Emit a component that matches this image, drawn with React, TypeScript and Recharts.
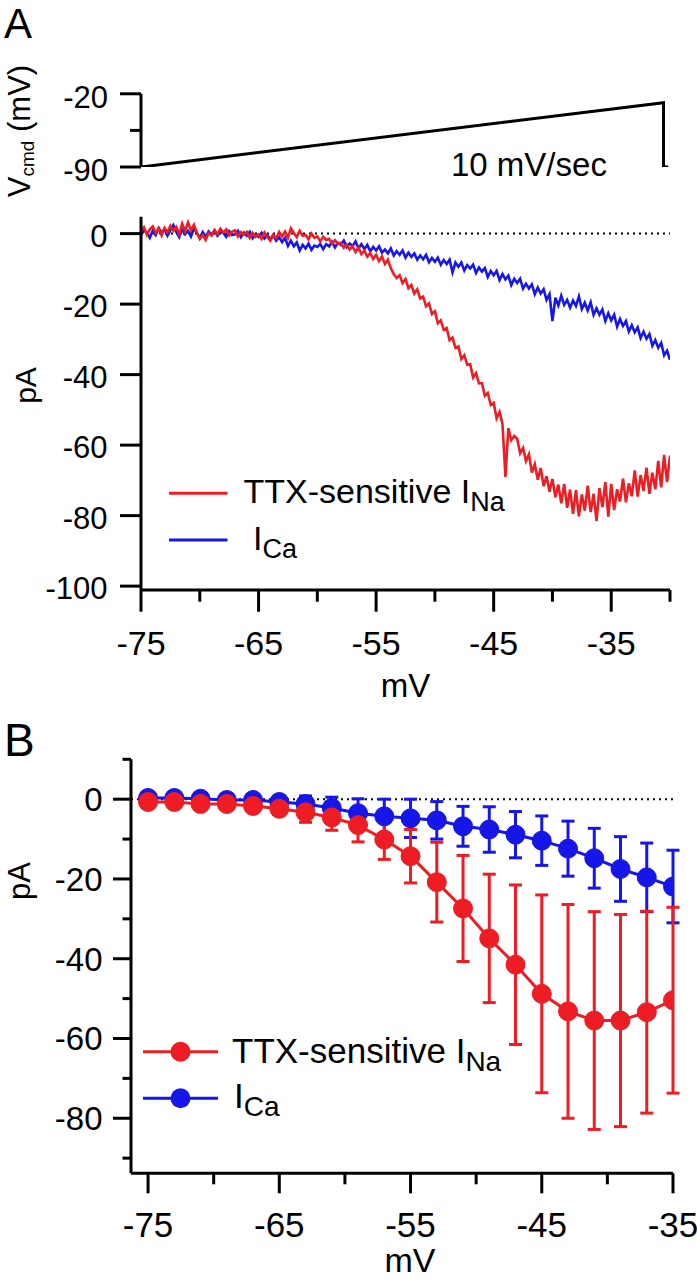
import { ErrorBar, Line, LineChart, ReferenceLine, XAxis, YAxis } from 'recharts';

const RED = '#ee1d23';
const BLUE = '#1616e8';
const FONT = '"Liberation Sans", Arial, Helvetica, sans-serif';

// command ramp shown above panel A
const rampMv = [-75, -30.55, -30.55, -30.15];
const rampCmd = [-90, -28.5, -90, -90];
const cmdTicks = [-90, -55, -20];
const cmdLabels = [-90, -20];

// panel A traces, one sample every 0.25 mV from -75 to -30
const traceStart = -75;
const traceStep = 0.25;
const naTrace = [
  0.5, 1.8, -0.3, 1.2, 2.0, 0.2, 1.5, -0.5, 1.6, 0.4, 2.2, 0.8,
  1.9, -0.2, 2.8, 0.6, 3.2, 1.0, 2.5, 0.3, -1.5, -0.4, -1.8, 0.2,
  -0.6, 1.0, -0.2, 1.4, 0.3, 1.2, -0.5, 0.6, 0.9, -0.8, 0.4, -0.3,
  0.5, -1.2, 0.2, -0.9, -0.2, -1.5, 0.3, -1.0, -2.0, -0.4, -1.3, 0.5,
  -0.8, 0.6, -1.2, 1.5, 0.2, -1.0, 0.8, -0.6, -0.4, -1.6, 0.0, -1.2,
  -0.8, -2.2, -0.9, -1.8, -1.5, -2.8, -1.9, -3.0, -2.6, -4.0, -3.1, -4.5,
  -3.6, -5.2, -4.0, -5.8, -4.8, -6.5, -5.5, -7.2, -6.0, -7.8, -6.5, -8.6,
  -7.4, -9.8, -11.5, -12.6, -11.8, -14.0, -12.9, -15.5, -14.6, -17.0, -15.8, -18.4,
  -17.9, -20.6, -19.8, -22.8, -22.0, -25.4, -24.6, -27.3, -26.8, -30.2, -29.5, -32.4,
  -32.0, -35.6, -34.5, -37.2, -37.0, -40.8, -39.6, -42.5, -42.4, -46.0, -45.2, -48.6,
  -48.0, -52.4, -50.6, -54.0, -69.0, -55.2, -58.6, -57.4, -58.2, -62.3, -60.8, -64.5,
  -62.6, -67.8, -65.4, -69.8, -66.5, -71.6, -68.8, -73.2, -69.6, -74.8, -71.2, -76.5,
  -71.0, -77.8, -72.6, -79.5, -72.8, -80.2, -74.0, -78.6, -71.5, -79.0, -73.8, -81.5,
  -72.2, -77.6, -70.5, -80.3, -71.0, -78.4, -72.5, -76.0, -69.5, -76.2, -70.8, -74.5,
  -67.2, -74.6, -68.5, -73.0, -66.4, -73.8, -67.8, -72.5, -64.5, -72.0, -62.8, -70.5,
  -63.0,
];
const caTrace = [
  -0.5, 1.0, 0.2, -1.2, 0.8, -0.4, 1.6, 0.3, 1.2, -0.6, 0.9, 2.4,
  0.5, -1.0, 1.3, -0.2, 0.8, -0.8, 1.5, 0.2, -1.2, 0.4, -0.9, 0.6,
  -0.3, 0.9, -0.6, 0.5, 0.2, -0.9, 0.7, -0.4, -0.2, 0.8, -1.0, 0.3,
  -0.6, 0.5, -1.3, -0.2, -0.9, 0.2, -1.4, -0.5, -1.6, -0.4, -2.0, -1.0,
  -2.4, -1.2, -3.5, -2.0, -3.6, -2.5, -4.8, -3.2, -4.2, -2.8, -4.6, -3.4,
  -3.8, -2.9, -4.4, -3.0, -3.6, -2.4, -3.9, -2.6, -3.2, -2.0, -3.8, -2.8,
  -3.5, -2.2, -4.2, -3.0, -4.4, -3.2, -5.0, -3.8, -4.8, -3.6, -5.4, -4.5,
  -5.6, -4.2, -6.2, -5.0, -6.0, -4.8, -6.8, -5.4, -6.6, -5.6, -7.4, -6.2,
  -7.3, -6.0, -8.1, -6.9, -8.0, -6.8, -8.8, -7.5, -8.6, -7.4, -11.0, -8.2,
  -9.4, -8.2, -10.5, -8.9, -9.9, -8.8, -11.2, -9.6, -10.8, -9.8, -12.3, -10.6,
  -11.8, -10.6, -13.2, -11.5, -13.0, -11.9, -14.6, -12.8, -14.0, -12.8, -15.6, -14.2,
  -15.6, -14.4, -17.2, -15.3, -17.0, -15.8, -18.8, -17.2, -24.8, -18.2, -20.4, -17.6,
  -20.2, -18.8, -21.0, -19.0, -20.5, -17.8, -21.4, -19.6, -21.8, -19.5, -23.0, -21.2,
  -23.0, -21.5, -24.8, -22.6, -24.6, -23.0, -26.4, -24.2, -26.2, -24.8, -27.8, -26.0,
  -28.0, -26.6, -29.6, -27.8, -29.8, -28.5, -31.8, -30.2, -32.4, -31.0, -34.5, -33.2,
  -35.8,
];
const aXTicks = [-75, -70, -65, -60, -55, -50, -45, -40, -35, -30];
const aXLabels = [-75, -65, -55, -45, -35];
const aYTicks = [0, -20, -40, -60, -80, -100];

// panel B, mean +/- error
const bMv = [-75, -73, -71, -69, -67, -65, -63, -61, -59, -57, -55, -53, -51, -49, -47, -45, -43, -41, -39, -37, -35];
const naMean = [-0.7, -0.7, -1.2, -1.2, -1.7, -2.4, -3.3, -4.6, -6.5, -10.1, -14.3, -20.8, -27.4, -34.9, -41.5, -48.8, -53.2, -55.5, -55.5, -53.4, -50.4];
const naErr = [0.5, 0.5, 0.6, 0.8, 1.0, 1.5, 2.5, 3.2, 4.2, 5.0, 6.7, 10.0, 13.3, 16.1, 20.0, 24.8, 26.8, 27.3, 26.6, 25.3, 23.3];
const caMean = [0.3, 0.3, 0.1, -0.2, -0.2, -0.7, -1.2, -2.2, -3.5, -4.3, -4.8, -5.3, -6.8, -7.6, -8.9, -10.4, -12.4, -14.8, -17.5, -19.6, -21.9];
const caErr = [0.4, 0.4, 0.5, 0.6, 0.8, 1.2, 2.0, 2.7, 3.6, 4.3, 4.8, 4.7, 5.0, 5.7, 5.8, 6.2, 6.9, 7.5, 8.1, 8.6, 9.1];
const bXTicks = [-75, -70, -65, -60, -55, -50, -45, -40, -35];
const bXLabels = [-75, -65, -55, -45, -35];
const bYTicks = [10, 0, -10, -20, -30, -40, -50, -60, -70, -80, -90];
const bYLabels = [0, -20, -40, -60, -80];

const rampRows = rampMv.map((mv, i) => ({ mv, cmd: rampCmd[i] }));
const traceRows = naTrace.map((na, i) => ({ mv: traceStart + i * traceStep, na, ca: caTrace[i] }));
const bRows = bMv.map((mv, i) => ({ mv, na: naMean[i], naErr: naErr[i], ca: caMean[i], caErr: caErr[i] }));

const axisLine = { stroke: '#000', strokeWidth: 3 };

function yTick(labels: number[], major: number, minor: number, gap: number, size: number, dy: string) {
  return (props: any) => {
    const { x, y, payload } = props;
    const labeled = labels.includes(payload.value);
    return (
      <g>
        <line x1={x - (labeled ? major : minor)} x2={x} y1={y} y2={y} stroke="#000" strokeWidth={3} />
        {labeled && (
          <text x={x - gap} y={y} dy={dy} textAnchor="end" fontSize={size} fontFamily={FONT} fill="#000">
            {payload.value}
          </text>
        )}
      </g>
    );
  };
}

function xTick(labels: number[], major: number, minor: number, drop: number, size: number) {
  return (props: any) => {
    const { x, y, payload } = props;
    const labeled = labels.includes(payload.value);
    return (
      <g>
        <line x1={x} x2={x} y1={y} y2={y + (labeled ? major : minor)} stroke="#000" strokeWidth={3} />
        {labeled && (
          <text x={x} y={y + drop} textAnchor="middle" fontSize={size} fontFamily={FONT} fill="#000">
            {payload.value}
          </text>
        )}
      </g>
    );
  };
}

export default function App() {
  return (
    <div style={{ position: 'absolute', left: 0, top: 0, width: 697, height: 1280, background: '#fff', fontFamily: FONT }}>
      <div style={{ position: 'absolute', left: 0, top: 0 }}>
        <LineChart width={697} height={200} data={rampRows} margin={{ top: 93.8, right: 27, bottom: 33, left: 0 }}>
          <XAxis type="number" dataKey="mv" domain={[-75, -30]} allowDataOverflow hide />
          <YAxis
            type="number"
            domain={[-90, -20]}
            allowDataOverflow
            ticks={cmdTicks}
            interval={0}
            width={141}
            tickSize={0}
            tickMargin={0}
            tickLine={false}
            axisLine={axisLine}
            tick={yTick(cmdLabels, 21, 11, 33, 31, '0.45em')}
          />
          <Line type="linear" dataKey="cmd" stroke="#000" strokeWidth={3} dot={false} isAnimationActive={false} />
        </LineChart>
      </div>

      <div style={{ position: 'absolute', left: 0, top: 200 }}>
        <LineChart width={697} height={520} data={traceRows} margin={{ top: 16.7, right: 27, bottom: 0, left: 0 }}>
          <ReferenceLine y={0} stroke="#000" strokeWidth={2} strokeDasharray="2 4" />
          <XAxis
            type="number"
            dataKey="mv"
            domain={[-75, -30]}
            allowDataOverflow
            ticks={aXTicks}
            interval={0}
            height={130}
            tickSize={0}
            tickMargin={0}
            tickLine={false}
            axisLine={axisLine}
            tick={xTick(aXLabels, 21.7, 11.7, 65, 34)}
          />
          <YAxis
            type="number"
            domain={[-101.1, 4.8]}
            allowDataOverflow
            ticks={aYTicks}
            interval={0}
            width={141}
            tickSize={0}
            tickMargin={0}
            tickLine={false}
            axisLine={axisLine}
            tick={yTick(aYTicks, 21, 11, 33.5, 31, '0.42em')}
          />
          <Line type="linear" dataKey="ca" stroke={BLUE} strokeWidth={2.6} dot={false} isAnimationActive={false} />
          <Line type="linear" dataKey="na" stroke={RED} strokeWidth={2.6} dot={false} isAnimationActive={false} />
        </LineChart>
      </div>

      <div style={{ position: 'absolute', left: 0, top: 700 }}>
        <LineChart width={697} height={580} data={bRows} margin={{ top: 59.3, right: 24, bottom: 0, left: 0 }}>
          <ReferenceLine y={0} stroke="#000" strokeWidth={2} strokeDasharray="2 4" />
          <XAxis
            type="number"
            dataKey="mv"
            domain={[-76.3, -35]}
            allowDataOverflow
            ticks={bXTicks}
            interval={0}
            height={106.7}
            tickSize={0}
            tickMargin={0}
            tickLine={false}
            axisLine={axisLine}
            tick={xTick(bXLabels, 20, 11, 63.4, 35)}
          />
          <YAxis
            type="number"
            domain={[-93.8, 10]}
            allowDataOverflow
            ticks={bYTicks}
            interval={0}
            width={131}
            tickSize={0}
            tickMargin={0}
            tickLine={false}
            axisLine={axisLine}
            tick={yTick(bYLabels, 18, 8.5, 28.5, 33, '0.36em')}
          />
          <Line
            type="linear"
            dataKey="ca"
            stroke={BLUE}
            strokeWidth={3}
            dot={{ r: 9.5, fill: BLUE, stroke: BLUE, strokeWidth: 1 }}
            isAnimationActive={false}
          >
            <ErrorBar dataKey="caErr" width={6.5} stroke={BLUE} strokeWidth={3} isAnimationActive={false} />
          </Line>
          <Line
            type="linear"
            dataKey="na"
            stroke={RED}
            strokeWidth={3}
            dot={{ r: 9.5, fill: RED, stroke: RED, strokeWidth: 1 }}
            isAnimationActive={false}
          >
            <ErrorBar dataKey="naErr" width={6.5} stroke={RED} strokeWidth={3} isAnimationActive={false} />
          </Line>
        </LineChart>
      </div>

      <svg
        width={697}
        height={1280}
        style={{ position: 'absolute', left: 0, top: 0, pointerEvents: 'none' }}
        fontFamily={FONT}
        fill="#000"
      >
        <text x={4} y={38} fontSize={42}>A</text>
        <text x={4} y={756} fontSize={46}>B</text>
        <text x={451} y={176} fontSize={33}>10 mV/sec</text>

        <text transform="rotate(-90 30 131)" x={30} y={131} textAnchor="middle" fontSize={31}>
          V<tspan fontSize={19} dy={4}>cmd</tspan>
          <tspan dy={-4}>{' (mV)'}</tspan>
        </text>
        <text transform="rotate(-90 36 385.5)" x={36} y={385.5} textAnchor="middle" fontSize={30}>pA</text>
        <text x={405.5} y={697} textAnchor="middle" fontSize={33}>mV</text>

        <line x1={169} x2={227.5} y1={493.3} y2={493.3} stroke={RED} strokeWidth={3} />
        <text x={243.5} y={503.3} fontSize={34}>
          TTX-sensitive I<tspan fontSize={27} dy={8}>Na</tspan>
        </text>
        <line x1={169} x2={227.5} y1={540} y2={540} stroke={BLUE} strokeWidth={3} />
        <text x={253} y={550} fontSize={34}>
          I<tspan fontSize={27} dy={8}>Ca</tspan>
        </text>

        <text transform="rotate(-90 30 881)" x={30} y={881} textAnchor="middle" fontSize={31}>pA</text>
        <text x={410} y={1272} textAnchor="middle" fontSize={34}>mV</text>

        <line x1={143} x2={218} y1={1051.7} y2={1051.7} stroke={RED} strokeWidth={3} />
        <circle cx={180.5} cy={1051.7} r={10} fill={RED} />
        <text x={232} y={1063.3} fontSize={35}>
          TTX-sensitive I<tspan fontSize={28} dy={8}>Na</tspan>
        </text>
        <line x1={143} x2={218} y1={1098.3} y2={1098.3} stroke={BLUE} strokeWidth={3} />
        <circle cx={180.5} cy={1098.3} r={10} fill={BLUE} />
        <text x={234} y={1108.3} fontSize={35}>
          I<tspan fontSize={28} dy={8}>Ca</tspan>
        </text>
      </svg>
    </div>
  );
}
